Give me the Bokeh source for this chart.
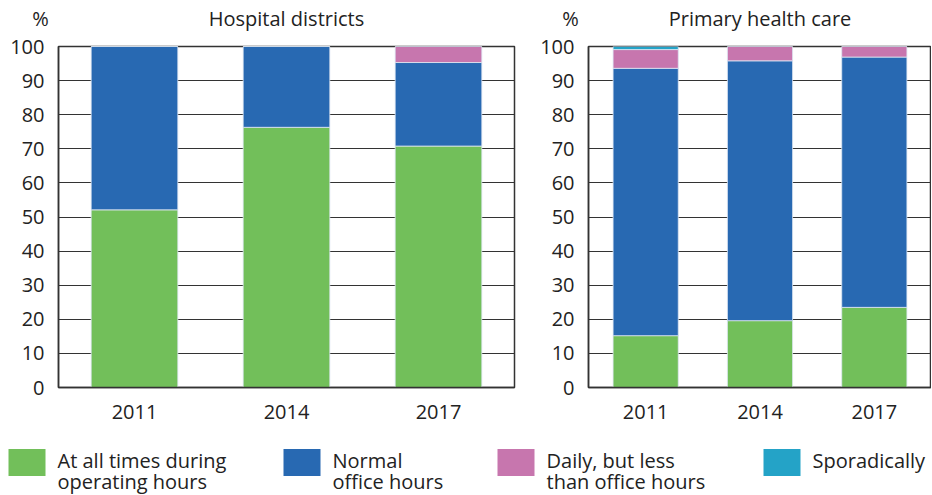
from bokeh.plotting import figure
from bokeh.layouts import column, row
from bokeh.models import FixedTicker, ColumnDataSource
from bokeh.core.properties import value
from bokeh.embed import file_html
from bokeh.resources import INLINE

years = ["2011", "2014", "2017"]
series = ["all_times", "office", "daily_less", "sporadic"]
panel_titles = ["Hospital districts", "Primary health care"]
unit_label = "%"
legend_labels = ["At all times during\noperating hours", "Normal\noffice hours",
                 "Daily, but less\nthan office hours", "Sporadically"]
colors = ["#72bf5a", "#2869b2", "#c776ae", "#24a3c7"]

hosp_all_times = [52.1, 76.3, 70.8]
hosp_office = [47.9, 23.7, 24.5]
hosp_daily_less = [0.0, 0.0, 4.7]
hosp_sporadic = [0.0, 0.0, 0.0]

phc_all_times = [15.2, 19.6, 23.5]
phc_office = [78.4, 76.2, 73.4]
phc_daily_less = [5.5, 4.2, 3.1]
phc_sporadic = [0.9, 0.0, 0.0]

yticks = list(range(0, 101, 10))
FONT = "Open Sans"
FS = "20px"
TXT = "#222222"

# layout geometry (page pixels)
HEAD_H = 34
MAIN_H = 396
LEG_H = 65
P1_W, P1_BL, P1_BR = 524, 58, 10
P2_W, P2_BL, P2_BR = 407, 64, 0


def make_panel(vals, width, border_left, border_right):
    src = ColumnDataSource(dict(years=years, **{s: v for s, v in zip(series, vals)}))
    p = figure(x_range=years, y_range=(0, 100), width=width, height=MAIN_H,
               output_backend="svg", toolbar_location=None,
               min_border_left=border_left, min_border_right=border_right,
               min_border_top=12, min_border_bottom=43)
    p.vbar_stack(series, x="years", width=0.57, color=colors, source=src,
                 line_color="#dde6f2", line_width=0.8)
    p.xgrid.grid_line_color = None
    p.ygrid.grid_line_color = "#333333"
    p.ygrid.grid_line_width = 1.2
    p.yaxis.ticker = FixedTicker(ticks=yticks)
    for ax in (p.xaxis[0], p.yaxis[0]):
        ax.major_tick_line_color = None
        ax.minor_tick_line_color = None
        ax.axis_line_color = "#333333"
        ax.axis_line_width = 1.5
        ax.major_label_text_font = FONT
        ax.major_label_text_font_size = FS
        ax.major_label_text_color = TXT
    p.yaxis.major_label_standoff = 8
    p.xaxis.major_label_standoff = 11
    p.outline_line_color = "#333333"
    p.outline_line_width = 1.5
    return p


p1 = make_panel([hosp_all_times, hosp_office, hosp_daily_less, hosp_sporadic],
                P1_W, P1_BL, P1_BR)
p2 = make_panel([phc_all_times, phc_office, phc_daily_less, phc_sporadic],
                P2_W, P2_BL, P2_BR)

TOTAL_W = P1_W + P2_W

# header: unit labels and panel titles
head = figure(width=TOTAL_W, height=HEAD_H, x_range=(0, TOTAL_W), y_range=(HEAD_H, 0),
              output_backend="svg", toolbar_location=None, min_border=0)
head.axis.visible = False
head.grid.grid_line_color = None
head.outline_line_color = None
frame_l = [P1_BL, P1_W + P2_BL]
frame_r = [P1_W - P1_BR, TOTAL_W - P2_BR]
head.text(x=[fl - 18 for fl in frame_l], y=[18, 18], text=[unit_label, unit_label],
          text_font=value(FONT), text_font_size=FS, text_color=TXT,
          text_align="center", text_baseline="middle")
head.text(x=[(a + b) / 2 for a, b in zip(frame_l, frame_r)], y=[18, 18], text=panel_titles,
          text_font=value(FONT), text_font_size=FS, text_color=TXT,
          text_align="center", text_baseline="middle")

# legend
leg = figure(width=TOTAL_W, height=LEG_H, x_range=(0, TOTAL_W), y_range=(LEG_H, 0),
             output_backend="svg", toolbar_location=None, min_border=0)
leg.axis.visible = False
leg.grid.grid_line_color = None
leg.outline_line_color = None
sw_x = [8, 283, 497, 763]
leg.rect(x=[x + 18.5 for x in sw_x], y=[32] * 4, width=37, height=27,
         color=colors, line_color=None)
tx, ty, tt = [], [], []
for x, lab in zip(sw_x, legend_labels):
    for k, line in enumerate(lab.split("\n")):
        tx.append(x + 49)
        ty.append(30 + 21 * k)
        tt.append(line)
leg.text(x=tx, y=ty, text=tt, text_font=value(FONT), text_font_size=FS,
         text_color=TXT, text_baseline="middle")

layout = column(head, row(p1, p2), leg)
open("out.html", "w").write(file_html(layout, INLINE))
